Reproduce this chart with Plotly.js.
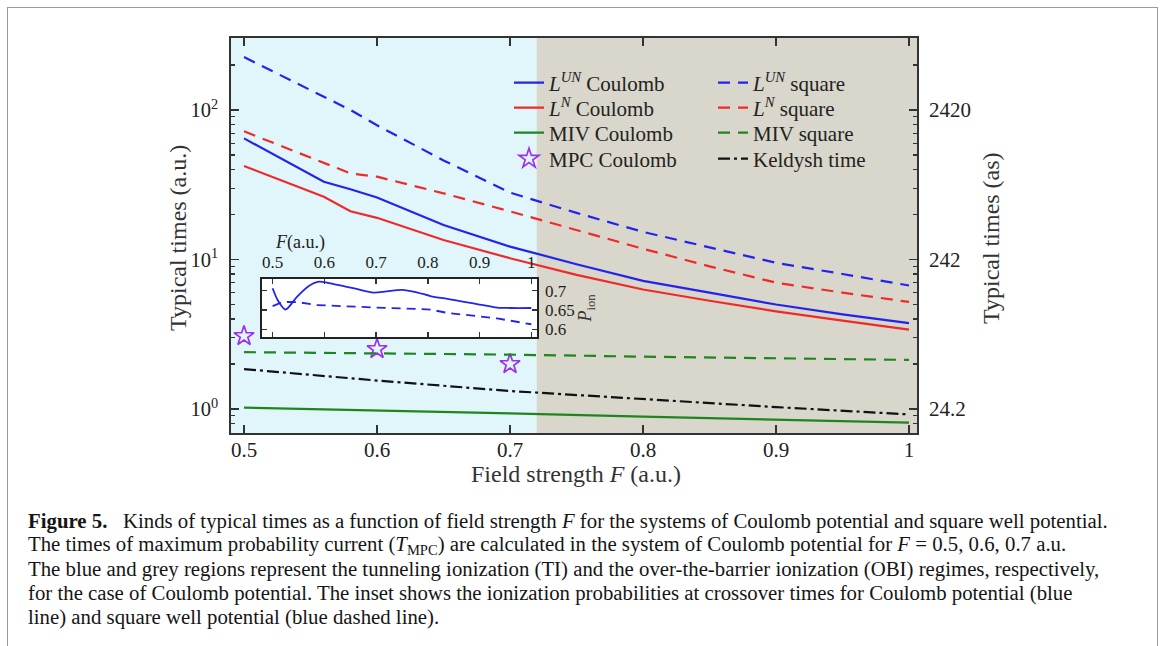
<!DOCTYPE html>
<html>
<head>
<meta charset="utf-8">
<script src="https://cdn.plot.ly/plotly-3.0.1.min.js"></script>
<style>
  html, body { margin: 0; padding: 0; background: #ffffff; }
  #wrap { position: relative; width: 1165px; height: 646px; overflow: hidden; }
  #frame { position: absolute; left: 7px; top: 7px; width: 1149px; height: 700px;
           border-left: 1px solid #9a9a9a; border-top: 1px solid #9a9a9a; border-right: 1px solid #9a9a9a; pointer-events: none; }
  #chart { position: absolute; left: 0; top: 0; width: 1165px; height: 646px; }
</style>
</head>
<body>
<div id="wrap">
  <div id="chart"></div>
  <div id="frame"></div>
</div>
<script>
// ---------------- data ----------------
const F_coul = [0.5, 0.56, 0.58, 0.6, 0.65, 0.7, 0.75, 0.8, 0.85, 0.9, 0.95, 1.0];
const LUN_coulomb = [64.6, 33.1, 29.5, 26.0, 17.0, 12.2, 9.3, 7.2, 6.0, 5.0, 4.3, 3.75];
const LN_coulomb  = [42.2, 26.3, 21.0, 19.0, 13.5, 10.2, 7.9, 6.3, 5.3, 4.5, 3.9, 3.4];

const F_sq = [0.5, 0.55, 0.58, 0.6, 0.65, 0.7, 0.75, 0.8, 0.85, 0.9, 0.95, 1.0];
const LUN_square = [226, 136, 100, 79, 46, 28, 20.5, 15.3, 12.0, 9.5, 8.0, 6.7];
const LN_square  = [72, 48, 37.7, 35.8, 27.7, 21.0, 15.8, 11.8, 9.0, 7.0, 6.0, 5.2];

const F_lin = [0.5, 0.6, 0.7, 0.8, 0.9, 1.0];
const MIV_square  = [2.40, 2.36, 2.31, 2.24, 2.19, 2.13];
const MIV_coulomb = [1.02, 0.98, 0.935, 0.89, 0.85, 0.81];
const keldysh     = [1.85, 1.55, 1.32, 1.16, 1.03, 0.92];

const F_mpc = [0.5, 0.6, 0.7];
const MPC_coulomb = [3.08, 2.52, 2.0];

// Inset: ionization probability at crossover times
const F_inset_c = [0.5, 0.51, 0.525, 0.547, 0.57, 0.59, 0.62, 0.66, 0.695, 0.72, 0.75, 0.78, 0.805, 0.84, 0.87, 0.9, 0.934, 0.96, 1.0];
const P_ion_coulomb = [0.706, 0.675, 0.651, 0.684, 0.712, 0.723, 0.716, 0.705, 0.695, 0.698, 0.702, 0.695, 0.686, 0.678, 0.671, 0.664, 0.656, 0.655, 0.655];
const F_inset_s = [0.5, 0.515, 0.53, 0.55, 0.585, 0.65, 0.695, 0.75, 0.805, 0.837, 0.9, 0.934, 1.0];
const P_ion_square = [0.660, 0.668, 0.671, 0.670, 0.6625, 0.660, 0.6565, 0.654, 0.651, 0.6425, 0.633, 0.628, 0.613];

// Regime boundary (TI | OBI)
const F_boundary = 0.72;

// Tick labels
const xTickVals = [0.5, 0.6, 0.7, 0.8, 0.9, 1];
const xTickText = ['0.5', '0.6', '0.7', '0.8', '0.9', '1'];
const yTickVals = [1, 10, 100];
const yTickText = ['10<sup>0</sup>', '10<sup>1</sup>', '10<sup>2</sup>'];
const yRightText = ['24.2', '242', '2420'];
const insetYTicks = [0.6, 0.65, 0.7];
const insetYText = ['0.6', '0.65', '0.7'];

const captionLines = [
  '<b>Figure 5.</b>&nbsp;&nbsp; Kinds of typical times as a function of field strength <i>F</i> for the systems of Coulomb potential and square well potential.',
  'The times of maximum probability current (<i>T</i><sub>MPC</sub>) are calculated in the system of Coulomb potential for <i>F</i> = 0.5, 0.6, 0.7 a.u.',
  'The blue and grey regions represent the tunneling ionization (TI) and the over-the-barrier ionization (OBI) regimes, respectively,',
  'for the case of Coulomb potential. The inset shows the ionization probabilities at crossover times for Coulomb potential (blue',
  'line) and square well potential (blue dashed line).'
];

// ---------------- styling ----------------
const SERIF = '"Liberation Serif", "DejaVu Serif", serif';
const BLUE = '#2323ee', RED = '#ee2a2a', GREEN = '#1f861f', BLACK = '#111111', PURPLE = '#9b30f0';
const DASH = '12px,8px';
const DASHDOT = '12px,4px,3px,4px';

const minorLog = [0.7, 0.8, 0.9, 2, 3, 4, 5, 6, 7, 8, 9, 20, 30, 40, 50, 60, 70, 80, 90, 200, 300];

const traces = [
  {x: F_coul, y: LUN_coulomb, mode: 'lines', name: '<i>L</i><sup><i>UN</i></sup> Coulomb',
   line: {color: BLUE, width: 2.2}, legend: 'legend'},
  {x: F_coul, y: LN_coulomb, mode: 'lines', name: '<i>L</i><sup><i>N</i></sup> Coulomb',
   line: {color: RED, width: 2.2}, legend: 'legend2'},
  {x: F_lin, y: MIV_coulomb, mode: 'lines', name: 'MIV Coulomb',
   line: {color: GREEN, width: 2.2}, legend: 'legend3'},
  {x: F_mpc, y: MPC_coulomb, mode: 'markers', name: 'MPC Coulomb',
   marker: {symbol: 'star-open', size: 15, color: PURPLE, line: {width: 1.7, color: PURPLE}}, legend: 'legend4'},
  {x: F_sq, y: LUN_square, mode: 'lines', name: '<i>L</i><sup><i>UN</i></sup> square',
   line: {color: BLUE, width: 2.2, dash: DASH}, legend: 'legend5'},
  {x: F_sq, y: LN_square, mode: 'lines', name: '<i>L</i><sup><i>N</i></sup> square',
   line: {color: RED, width: 2.2, dash: DASH}, legend: 'legend6'},
  {x: F_lin, y: MIV_square, mode: 'lines', name: 'MIV square',
   line: {color: GREEN, width: 2.2, dash: DASH}, legend: 'legend7'},
  // Keldysh time drawn against the right-hand axis (identical log range, as = a.u. x 24.2)
  {x: F_lin, y: keldysh, mode: 'lines', name: 'Keldysh time', yaxis: 'y2',
   line: {color: BLACK, width: 2.2, dash: DASHDOT}, legend: 'legend8'},
  // inset
  {x: F_inset_c, y: P_ion_coulomb, mode: 'lines', xaxis: 'x2', yaxis: 'y3', showlegend: false,
   line: {color: BLUE, width: 1.8, shape: 'spline', smoothing: 0.8}},
  {x: F_inset_s, y: P_ion_square, mode: 'lines', xaxis: 'x2', yaxis: 'y3', showlegend: false,
   line: {color: BLUE, width: 1.8, dash: '9px,6px'}}
];

const axisCommon = {
  showline: true, linecolor: '#333333', linewidth: 1.8, ticks: 'inside', tickcolor: '#333333',
  tickwidth: 1.4, showgrid: false, zeroline: false, mirror: 'ticks'
};

const pL = 231, pR = 917, pT = 38, pB = 433, W = 1165, H = 646;
const pxX = px => (px - pL) / (pR - pL);
const pxY = py => (pB - py) / (pB - pT);

const annotations = captionLines.map((t, i) => ({
  text: t, xref: 'paper', yref: 'paper', x: pxX(26), y: pxY(521 + 24 * i),
  xanchor: 'left', yanchor: 'middle', showarrow: false, align: 'left',
  font: {family: SERIF, size: 20.8, color: '#151515'}
}));
annotations.push(
  {text: '<i>F</i>(a.u.)', xref: 'paper', yref: 'paper', x: pxX(300), y: pxY(242),
   xanchor: 'center', yanchor: 'middle', showarrow: false,
   font: {family: SERIF, size: 18, color: '#222'}},
  {text: 'Field strength <i>F</i> (a.u.)', xref: 'paper', yref: 'paper', x: pxX(576), y: pxY(474),
   xanchor: 'center', yanchor: 'middle', showarrow: false,
   font: {family: SERIF, size: 24, color: '#333'}},
  {text: 'Typical times (a.u.)', xref: 'paper', yref: 'paper', x: pxX(178), y: pxY(238), textangle: -90,
   xanchor: 'center', yanchor: 'middle', showarrow: false,
   font: {family: SERIF, size: 24, color: '#333'}},
  {text: 'Typical times (as)', xref: 'paper', yref: 'paper', x: pxX(991), y: pxY(238), textangle: -90,
   xanchor: 'center', yanchor: 'middle', showarrow: false,
   font: {family: SERIF, size: 24, color: '#333'}}
);

function mkLegend(px, py) {
  return {x: pxX(px), y: pxY(py), xanchor: 'left', yanchor: 'middle', bgcolor: 'rgba(0,0,0,0)',
          font: {family: SERIF, size: 21, color: '#222'}, itemwidth: 30, borderwidth: 0};
}

const layout = {
  width: W, height: H,
  margin: {l: pL, r: W - pR, t: pT, b: H - pB, pad: 0},
  paper_bgcolor: 'rgba(0,0,0,0)', plot_bgcolor: '#ffffff',
  font: {family: SERIF, color: '#222222'},
  xaxis: Object.assign({}, axisCommon, {
    range: [0.4902, 1.006], tickvals: xTickVals, ticktext: xTickText, ticklen: 8,
    tickfont: {family: SERIF, size: 21, color: '#222'}, ticklabelstandoff: -3
  }),
  yaxis: Object.assign({}, axisCommon, {
    type: 'log', range: [-0.1605, 2.4816], tickvals: yTickVals, ticktext: yTickText, ticklen: 8,
    tickfont: {family: SERIF, size: 20.5, color: '#222'}, ticklabelstandoff: 7,
    minor: {tickmode: 'array', tickvals: minorLog, ticks: 'inside', ticklen: 4, tickcolor: '#333', tickwidth: 1.2}
  }),
  yaxis2: Object.assign({}, axisCommon, {
    type: 'log', range: [-0.1605, 2.4816], overlaying: 'y', side: 'right', anchor: 'x',
    tickvals: yTickVals, ticktext: yRightText, ticklen: 8, mirror: false,
    tickfont: {family: SERIF, size: 21, color: '#222'}, ticklabelstandoff: 6,
    minor: {tickmode: 'array', tickvals: minorLog, ticks: 'inside', ticklen: 4, tickcolor: '#333', tickwidth: 1.2}
  }),
  xaxis2: Object.assign({}, axisCommon, {
    domain: [pxX(262), pxX(537)], anchor: 'y3', side: 'top', range: [0.4795, 1.011],
    tickvals: xTickVals, ticktext: xTickText, ticklen: 5, linewidth: 1.6, linecolor: '#222',
    tickfont: {family: SERIF, size: 17, color: '#222'}, ticklabelstandoff: 3
  }),
  yaxis3: Object.assign({}, axisCommon, {
    domain: [pxY(337), pxY(279)], anchor: 'x2', side: 'right', range: [0.58, 0.73],
    tickvals: insetYTicks, ticktext: insetYText, ticklen: 5, linewidth: 1.6, linecolor: '#222',
    tickfont: {family: SERIF, size: 17, color: '#222'}, ticklabelstandoff: 3,
    title: {text: '<i>P</i><sub>ion</sub>', font: {family: SERIF, size: 18, color: '#333'}, standoff: 2}
  }),
  shapes: [
    {type: 'rect', xref: 'x', yref: 'paper', x0: 0.3, x1: F_boundary, y0: 0, y1: 1,
     fillcolor: '#e1f6fa', line: {width: 0}, layer: 'below'},
    {type: 'rect', xref: 'x', yref: 'paper', x0: F_boundary, x1: 1.2, y0: 0, y1: 1,
     fillcolor: '#d9d6cb', line: {width: 0}, layer: 'below'},
    {type: 'rect', xref: 'x2 domain', yref: 'y3 domain', x0: 0, x1: 1, y0: 0, y1: 1,
     fillcolor: '#ffffff', line: {width: 0}, layer: 'below'}
  ],
  legend: mkLegend(509, 83),
  legend2: mkLegend(509, 108),
  legend3: mkLegend(509, 133),
  legend4: mkLegend(509, 159),
  legend5: mkLegend(713, 83),
  legend6: mkLegend(713, 108),
  legend7: mkLegend(713, 133),
  legend8: mkLegend(713, 159),
  annotations: annotations,
  showlegend: true
};

Plotly.newPlot('chart', traces, layout, {staticPlot: true, displayModeBar: false});
</script>
</body>
</html>
